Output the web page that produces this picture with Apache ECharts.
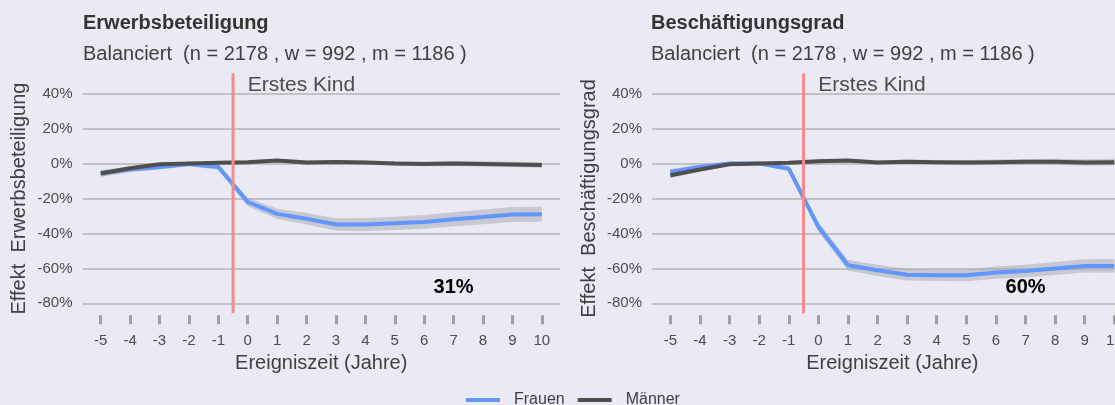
<!DOCTYPE html>
<html>
<head>
<meta charset="utf-8">
<script src="https://cdn.jsdelivr.net/npm/echarts@6.0.0/dist/echarts.min.js"></script>
<style>
html, body { margin: 0; padding: 0; background: #EAEAF5; }
#main { width: 1115px; height: 405px; }
</style>
</head>
<body>
<div id="main"></div>
<script>
// Ereigniszeit in Jahren relativ zur Geburt des ersten Kindes
var years = [-5, -4, -3, -2, -1, 0, 1, 2, 3, 4, 5, 6, 7, 8, 9, 10];
var xTicks = [-5, -4, -3, -2, -1, 0, 1, 2, 3, 4, 5, 6, 7, 8, 9, 10];
var yTicks = [-80, -60, -40, -20, 0, 20, 40];

var panelTitles = ['Erwerbsbeteiligung', 'Beschäftigungsgrad'];
var subTitle = 'Balanciert  (n = 2178 , w = 992 , m = 1186 )';
var effectLabels = ['31%', '60%'];

// Erwerbsbeteiligung (in %)
var erwFrauen   = [-5.5, -3.4, -1.9, -0.2, -1.9, -22.0, -28.8, -31.6, -34.9, -34.9, -34.2, -33.4, -31.9, -30.6, -29.2, -29.0];
var erwFrauenLo = [-7.5, -5.0, -3.4, -1.5, -3.6, -24.5, -31.8, -34.9, -38.5, -38.6, -38.0, -37.3, -35.9, -34.8, -33.5, -33.3];
var erwFrauenHi = [-3.7, -1.8, -0.4, 1.1, -0.2, -19.5, -25.8, -28.3, -31.3, -31.2, -30.4, -29.5, -27.9, -26.4, -24.9, -24.7];
var erwMaenner   = [-5.7, -2.7, -0.4, 0, 0.4, 0.8, 1.7, 0.6, 0.9, 0.6, 0, -0.2, 0, -0.2, -0.5, -0.8];
var erwMaennerLo = [-7.4, -3.9, -1.3, -0.6, -0.3, -0.2, 0.6, -0.5, -0.2, -0.6, -1.3, -1.5, -1.4, -1.7, -2.0, -2.4];
var erwMaennerHi = [-4.0, -1.5, 0.5, 0.6, 1.1, 1.8, 2.8, 1.7, 2.0, 1.8, 1.3, 1.1, 1.4, 1.3, 1.0, 0.8];

// Beschäftigungsgrad (in %)
var besFrauen   = [-4.8, -1.9, 0, 0, -2.9, -36.2, -58.2, -61.1, -63.6, -64.0, -64.0, -62.4, -61.5, -60.1, -58.6, -58.6];
var besFrauenLo = [-6.5, -3.3, -1.2, -0.6, -4.5, -39.0, -61.2, -64.3, -66.9, -67.3, -67.4, -65.9, -65.1, -63.8, -62.4, -62.5];
var besFrauenHi = [-3.1, -0.5, 1.2, 0.6, -1.3, -33.4, -55.2, -57.9, -60.3, -60.7, -60.6, -58.9, -57.9, -56.4, -54.8, -54.7];
var besMaenner   = [-6.7, -3.4, -0.4, 0, 0.4, 1.3, 1.7, 0.6, 1.0, 0.8, 0.6, 0.8, 1.0, 1.0, 0.6, 0.8];
var besMaennerLo = [-8.4, -4.7, -1.4, -0.6, -0.3, 0.2, 0.5, -0.6, -0.3, -0.5, -0.8, -0.7, -0.6, -0.7, -1.2, -1.1];
var besMaennerHi = [-5.0, -2.1, 0.6, 0.6, 1.1, 2.4, 2.9, 1.8, 2.3, 2.1, 2.0, 2.3, 2.6, 2.7, 2.4, 2.7];

var birthX = -0.5;               // vertikale Linie "Erstes Kind"
var panelRange = [-85.7, 51.7];  // y-Bereich des Panels (Länge der vertikalen Linie)
var eventLabelPos = [0, 44.8];
var effectLabelPos = [7, -71];

var blue = '#6196FF';
var dark = '#4F4F4F';
var red = '#FA8A8A';
var band = 'rgba(165, 165, 172, 0.5)';
var font = '"Liberation Sans", Arial, sans-serif';

var myChart = echarts.init(document.getElementById('main'));

function pairs(ys) {
    return years.map(function (x, i) { return [x, ys[i]]; });
}

function bandSeries(k, lo, hi) {
    return {
        type: 'custom', xAxisIndex: k, yAxisIndex: k, silent: true, z: 1,
        data: [[0, 0]],
        renderItem: function (params, api) {
            var pts = [];
            for (var i = 0; i < years.length; i++) pts.push(api.coord([years[i], hi[i]]));
            for (var j = years.length - 1; j >= 0; j--) pts.push(api.coord([years[j], lo[j]]));
            return { type: 'polygon', shape: { points: pts }, style: { fill: band } };
        }
    };
}

function lineSeries(k, name, ys, color, z) {
    return {
        type: 'line', name: name, xAxisIndex: k, yAxisIndex: k, data: pairs(ys),
        symbol: 'none', z: z, color: color,
        lineStyle: { color: color, width: 4 }
    };
}

function markerSeries(k) {
    return {
        type: 'custom', xAxisIndex: k, yAxisIndex: k, silent: true, z: 5,
        data: [[birthX, 0]],
        renderItem: function (params, api) {
            var top = api.coord([birthX, panelRange[1]]);
            var bottom = api.coord([birthX, panelRange[0]]);
            var lab = api.coord(eventLabelPos);
            var eff = api.coord(effectLabelPos);
            return {
                type: 'group',
                children: [
                    { type: 'line', shape: { x1: top[0], y1: top[1], x2: bottom[0], y2: bottom[1] },
                      style: { stroke: red, lineWidth: 3 } },
                    { type: 'text', x: lab[0], y: lab[1],
                      style: { text: 'Erstes Kind', fill: '#4D4D4D', font: '21px ' + font, align: 'left', verticalAlign: 'middle' } },
                    { type: 'text', x: eff[0], y: eff[1],
                      style: { text: effectLabels[k], fill: '#000', font: 'bold 20px ' + font, align: 'center', verticalAlign: 'middle' } }
                ]
            };
        }
    };
}

function xAxisFor(k) {
    return {
        type: 'value', gridIndex: k, min: -5.62, max: 10.62, offset: 12,
        axisLine: { show: false, onZero: false },
        axisTick: { customValues: xTicks, length: 9, lineStyle: { color: '#A0A0A0', width: 3 } },
        axisLabel: { customValues: xTicks, margin: 18, fontSize: 15, color: '#4D4D4D' },
        splitLine: { show: false },
        name: 'Ereigniszeit (Jahre)', nameLocation: 'middle', nameGap: 36,
        nameTextStyle: { fontSize: 20, color: '#404040' }
    };
}

function yAxisFor(k) {
    return {
        type: 'value', gridIndex: k, min: yTicks[0], max: yTicks[yTicks.length - 1], interval: 20,
        axisLine: { show: false },
        axisTick: { show: false },
        axisLabel: { formatter: '{value}%', margin: 10, fontSize: 15, color: '#4D4D4D' },
        splitLine: { lineStyle: { color: '#C2C2C6', width: 2 } },
        name: 'Effekt  ' + panelTitles[k], nameLocation: 'middle', nameGap: 53,
        nameTextStyle: { fontSize: 20, color: '#404040' }
    };
}

var option = {
    backgroundColor: '#EAEAF5',
    animation: false,
    textStyle: { fontFamily: font },
    title: [
        { text: panelTitles[0], left: 83, top: 13, padding: 0,
          textStyle: { fontSize: 20, fontWeight: 'bold', color: '#333' } },
        { text: subTitle, left: 83, top: 44, padding: 0,
          textStyle: { fontSize: 20, fontWeight: 'normal', color: '#404040' } },
        { text: panelTitles[1], left: 651, top: 13, padding: 0,
          textStyle: { fontSize: 20, fontWeight: 'bold', color: '#333' } },
        { text: subTitle, left: 651, top: 44, padding: 0,
          textStyle: { fontSize: 20, fontWeight: 'normal', color: '#404040' } }
    ],
    legend: {
        data: ['Frauen', 'Männer'],
        left: 466, top: 392, padding: 0,
        icon: 'rect', itemWidth: 34, itemHeight: 4, itemGap: 13,
        textStyle: { fontSize: 16, color: '#404040', padding: [0, 0, 0, 9] }
    },
    grid: [
        { left: 82.5, top: 93.7, width: 477.5, height: 209.6, outerBoundsMode: 'none' },
        { left: 652, top: 93.7, width: 480.7, height: 209.6, outerBoundsMode: 'none' }
    ],
    xAxis: [xAxisFor(0), xAxisFor(1)],
    yAxis: [yAxisFor(0), yAxisFor(1)],
    series: [
        bandSeries(0, erwFrauenLo, erwFrauenHi),
        bandSeries(0, erwMaennerLo, erwMaennerHi),
        lineSeries(0, 'Frauen', erwFrauen, blue, 2),
        lineSeries(0, 'Männer', erwMaenner, dark, 3),
        markerSeries(0),
        bandSeries(1, besFrauenLo, besFrauenHi),
        bandSeries(1, besMaennerLo, besMaennerHi),
        lineSeries(1, 'Frauen', besFrauen, blue, 2),
        lineSeries(1, 'Männer', besMaenner, dark, 3),
        markerSeries(1)
    ]
};

myChart.setOption(option);
</script>
</body>
</html>
